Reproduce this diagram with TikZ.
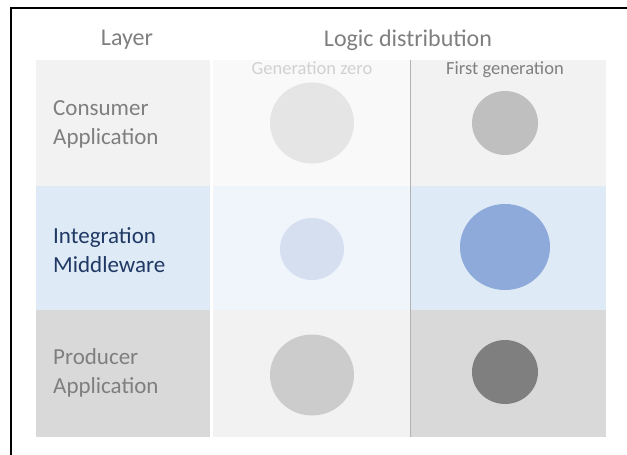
\documentclass[tikz,border=0pt]{standalone}
\usepackage{fontspec}
\setmainfont{Carlito}
\definecolor{cellgray}{HTML}{F2F2F2}
\definecolor{cellpale}{HTML}{F9F9F9}
\definecolor{celldark}{HTML}{D9D9D9}
\definecolor{cellblue}{HTML}{DEEAF6}
\definecolor{cellpaleblue}{HTML}{F0F5FB}
\definecolor{txtgray}{HTML}{7F7F7F}
\definecolor{txtblue}{HTML}{1F3864}
\definecolor{dotpaleblue}{HTML}{D6DFF0}
\definecolor{dotblue}{HTML}{8EAADB}
\tikzset{
  cell/.style={inner sep=0pt, anchor=north west},
  dot/.style={ellipse, inner sep=0pt},
  layer/.style={anchor=west, align=left, inner sep=0pt, font=\fontsize{23}{29}\selectfont, txtgray},
  head/.style={font=\fontsize{24}{28}\selectfont, txtgray},
  gen/.style={font=\fontsize{18.5}{22}\selectfont}
}
\usetikzlibrary{shapes.geometric}
\begin{document}
\begin{tikzpicture}[x=1pt,y=-1pt]
\useasboundingbox (0,0) rectangle (627,455);
% frame
\draw[line width=2.5pt] (11,455) -- (11,8) -- (627,8);
% headers
\node[head] (hlayer) at (127,40) {Layer};
\node[head] (hlogic) at (408,40) {Logic distribution};
% layer column
\node[cell, fill=cellgray, minimum width=174pt, minimum height=126pt] (lay1) at (36,60) {};
\node[cell, fill=cellblue, minimum width=174pt, minimum height=124pt] (lay2) at (36,186) {};
\node[cell, fill=celldark, minimum width=174pt, minimum height=127pt] (lay3) at (36,310) {};
% generation zero
\node[cell, fill=cellpale, minimum width=197pt, minimum height=126pt] (zero1) at (213,60) {};
\node[cell, fill=cellpaleblue, minimum width=197pt, minimum height=124pt] (zero2) at (213,186) {};
\node[cell, fill=cellgray, minimum width=197pt, minimum height=127pt] (zero3) at (213,310) {};
% first generation
\node[cell, fill=cellgray, minimum width=196pt, minimum height=126pt] (first1) at (410,60) {};
\node[cell, fill=cellblue, minimum width=196pt, minimum height=124pt] (first2) at (410,186) {};
\node[cell, fill=celldark, minimum width=196pt, minimum height=127pt] (first3) at (410,310) {};
\draw[black!30, line width=0.8pt] (zero1.north east) -- (zero3.south east);
% labels
\node[layer] (consumer) at (53,124) {Consumer\\Application};
\node[layer, txtblue] (middleware) at (53,250) {Integration\\Middleware};
\node[layer] (producer) at (53,373) {Producer\\Application};
\node[gen, black!18] (genzero) at (312,68) {Generation zero};
\node[gen, txtgray] (genfirst) at (505,70) {First generation};
% circles
\node[dot, fill=black!10, minimum width=84pt, minimum height=81pt] (c01) at (312,123) {};
\node[dot, fill=black!25, minimum width=66pt, minimum height=64pt] (c11) at (505,123) {};
\node[dot, fill=dotpaleblue, minimum width=64pt, minimum height=62pt] (c02) at (312,249) {};
\node[dot, fill=dotblue, minimum width=90pt, minimum height=86pt] (c12) at (505,247) {};
\node[dot, fill=black!20, minimum width=84pt, minimum height=81pt] (c03) at (312,375) {};
\node[dot, fill=txtgray, minimum width=66pt, minimum height=64pt] (c13) at (505,372) {};
\end{tikzpicture}
\end{document}
